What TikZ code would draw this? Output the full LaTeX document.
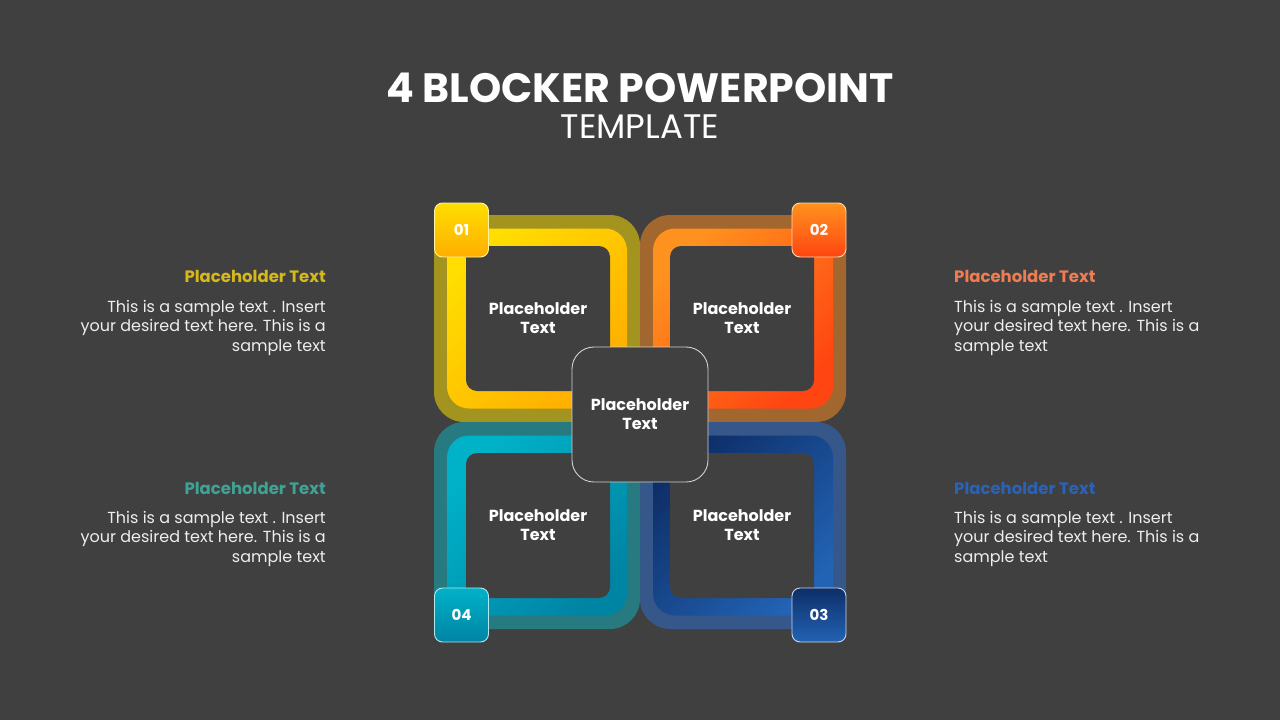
\documentclass[tikz,border=0pt]{standalone}
\usepackage{fontspec}
\setmainfont{Poppins}
\usetikzlibrary{positioning}
\definecolor{bgdark}{HTML}{404040}
\definecolor{inkwhite}{HTML}{EEEEEE}
% outer ring, bright band start/end
\definecolor{ylwouter}{HTML}{A3941F}
\definecolor{ylwa}{HTML}{FFDE00}
\definecolor{ylwb}{HTML}{FFAE00}
\definecolor{orgouter}{HTML}{A2662F}
\definecolor{orga}{HTML}{FF921E}
\definecolor{orgb}{HTML}{FF4512}
\definecolor{tealouter}{HTML}{277A80}
\definecolor{teala}{HTML}{00B2C8}
\definecolor{tealb}{HTML}{0084A4}
\definecolor{blueouter}{HTML}{35578A}
\definecolor{bluea}{HTML}{0E2E68}
\definecolor{blueb}{HTML}{2263B4}
\definecolor{ylwhead}{HTML}{D5B81A}
\definecolor{orghead}{HTML}{EF7C52}
\definecolor{tealhead}{HTML}{3FA394}
\definecolor{bluehead}{HTML}{2A62B6}
\tikzset{
 blk outer/.style={rounded corners=30pt},
 blk band/.style={rounded corners=22pt},
 blk inner/.style={fill=bgdark,rounded corners=11pt,minimum width=144pt,
                   minimum height=145pt,inner sep=0pt,align=center,text=white,
                   font=\bfseries\fontsize{16}{19}\selectfont},
 blk center/.style={blk inner,draw=black!18,line width=0.9pt,
                    rounded corners=22pt,minimum width=136pt,minimum height=135pt},
 blk badge/.style={rounded corners=8pt,minimum size=54pt,inner sep=0pt,
                   line width=0.9pt,text=white,shading angle=45,
                   font=\bfseries\fontsize{15}{15}\selectfont},
 side head/.style={inner sep=0pt,font=\bfseries\fontsize{16.5}{18}\selectfont},
 side body/.style={inner sep=0pt,text=inkwhite,font=\fontsize{16}{19.5}\selectfont}
}
\begin{document}
\begin{tikzpicture}[x=1pt,y=-1pt]
 \fill[bgdark] (0,0) rectangle (1280,720);
 \useasboundingbox (0,0) rectangle (1280,720);

 \node[text=white,font=\bfseries\fontsize{41}{44}\selectfont] (title) at (640,88)
   {4 BLOCKER POWERPOINT};
 \node[text=white,font=\fontsize{34}{38}\selectfont,below=5pt of title] (subtitle)
   {TEMPLATE};

 % four blocks
 \foreach \i/\cx/\cy/\ix/\oc/\ca/\cb in {1/537/318.5/538/ylwouter/ylwa/ylwb,
     2/743/318.5/742/orgouter/orga/orgb,
     3/743/525.5/742/blueouter/bluea/blueb,
     4/537/525.5/538/tealouter/teala/tealb}{
   \fill[blk outer,\oc] ({\cx-103},{\cy-103.5}) rectangle ({\cx+103},{\cy+103.5});
   \shade[blk band,top color=\ca,bottom color=\cb,shading angle=45]
     ({\cx-90},{\cy-90}) rectangle ({\cx+90},{\cy+90});
   \node[blk inner] (blk\i) at (\ix,\cy) {Placeholder\\Text};
 }
 \node[blk center] (hub) at (640,414.5) {Placeholder\\Text};

 \node[blk badge,top color=ylwa,bottom color=ylwb,draw=ylwa!35!white] (bdg1)
   at (461.5,230) {01};
 \node[blk badge,top color=orga,bottom color=orgb,draw=orga!35!white] (bdg2)
   at (819,230) {02};
 \node[blk badge,top color=bluea,bottom color=blueb,draw=blueb!25!white] (bdg3)
   at (819,615) {03};
 \node[blk badge,top color=teala,bottom color=tealb,draw=teala!30!white] (bdg4)
   at (461.5,615) {04};

 % side texts
 \node[side head,text=ylwhead,anchor=base east] (head1) at (326,282) {Placeholder Text};
 \node[side body,anchor=north east,align=right] (body1) at (326,300)
   {This is a sample text . Insert\\your desired text here. This is a\\sample text};
 \node[side head,text=orghead,anchor=base west] (head2) at (954,282) {Placeholder Text};
 \node[side body,anchor=north west,align=left] (body2) at (954,300)
   {This is a sample text . Insert\\your desired text here. This is a\\sample text};
 \node[side head,text=tealhead,anchor=base east] (head4) at (326,494) {Placeholder Text};
 \node[side body,anchor=north east,align=right] (body4) at (326,511)
   {This is a sample text . Insert\\your desired text here. This is a\\sample text};
 \node[side head,text=bluehead,anchor=base west] (head3) at (954,494) {Placeholder Text};
 \node[side body,anchor=north west,align=left] (body3) at (954,511)
   {This is a sample text . Insert\\your desired text here. This is a\\sample text};
\end{tikzpicture}
\end{document}
